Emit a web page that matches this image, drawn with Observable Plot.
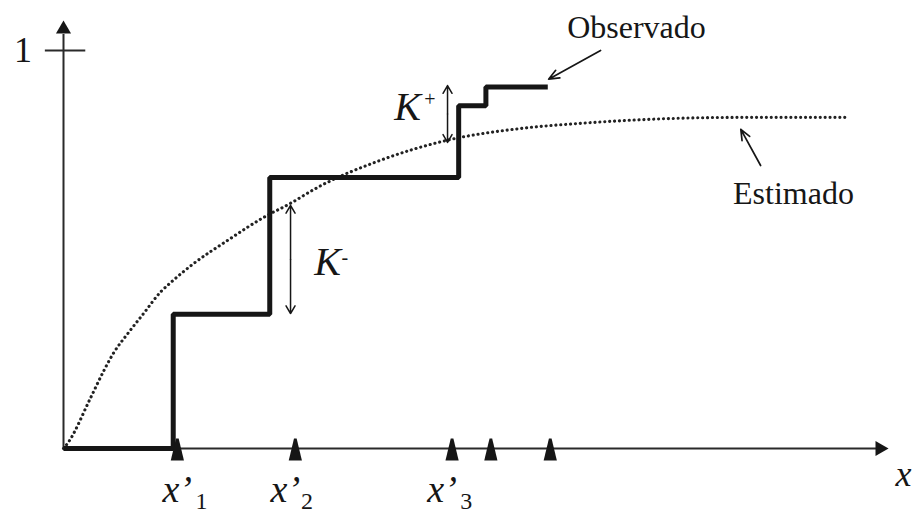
<!DOCTYPE html>
<html>
<head>
<meta charset="utf-8">
<script src="https://cdn.jsdelivr.net/npm/d3@7"></script>
<script src="https://cdn.jsdelivr.net/npm/@observablehq/plot@0.6"></script>
<style>
  html, body { margin: 0; padding: 0; background: #fff; }
</style>
</head>
<body>
<div id="chart"></div>
<script>
// Observed empirical CDF (step function)
const stepX = [0, 1.33, 2.50, 4.79, 5.12, 5.87];
const stepY = [0, 0.337, 0.681, 0.861, 0.908, 0.908];

// Estimated CDF (dotted curve)
const estX = [0, 0.05, 0.33, 0.49, 0.61, 0.78, 0.97, 1.18, 1.30, 1.58, 1.99, 2.42, 2.75, 3.08, 3.84, 4.64, 5.54, 6.27, 8.21, 9.50];
const estY = [0, 0.013, 0.128, 0.196, 0.241, 0.289, 0.339, 0.394, 0.417, 0.465, 0.523, 0.580, 0.616, 0.656, 0.724, 0.774, 0.804, 0.817, 0.832, 0.832];

// Sample points marked on the x axis
const sampleX = [1.38, 2.81, 4.71, 5.18, 5.90];

// Tick label on y axis
const yTicks = [1];
const yTickLabels = ["1"];

// Sample labels x'_i
const sampleLabelX = [1.20, 2.51, 4.41];
const sampleLabelSubX = [1.60, 2.88, 4.81];
const sampleLabelSub = ["1", "2", "3"];

// Annotation labels
const annoText = ["Observado", "Estimado"];
const annoX = [6.945, 8.848];
const annoY = [1.056, 0.641];

// Annotation arrows (from label to curve)
const arrowX1 = [6.51, 8.45];
const arrowY1 = [1.000, 0.711];
const arrowX2 = [5.88, 8.21];
const arrowY2 = [0.928, 0.802];

// K statistics: double arrows and labels
const kX = [4.655, 2.752];
const kY1 = [0.912, 0.611];
const kY2 = [0.769, 0.339];
const kLabelX = [4.17, 3.20];
const kLabelY = [0.857, 0.467];
const kSup = ["+", "-"];
const kSupX = [4.44, 3.41];
const kSupY = [0.877, 0.479];

const ink = "#161616";

const steps = stepX.map((x, i) => ({x, y: stepY[i]}));
const est = estX.map((x, i) => ({x, y: estY[i]}));
const samples = sampleX.map(x => ({x, y: 0}));
const annos = annoText.map((t, i) => ({t, x: annoX[i], y: annoY[i]}));
const arrows = arrowX1.map((x1, i) => ({x1, y1: arrowY1[i], x2: arrowX2[i], y2: arrowY2[i]}));
// each double arrow = two arrows from the midpoint outward
const kHalves = kX.flatMap((x, i) => {
  const m = (kY1[i] + kY2[i]) / 2;
  return [{x, y1: m, y2: kY1[i]}, {x, y1: m, y2: kY2[i]}];
});
const kLabels = kLabelX.map((x, i) => ({x, y: kLabelY[i], sup: kSup[i], sx: kSupX[i], sy: kSupY[i]}));
const xLabels = sampleLabelX.map((x, i) => ({x, sx: sampleLabelSubX[i], sub: sampleLabelSub[i]}));

// narrow triangle symbol for the sample markers
const narrowTriangle = {
  draw(context, size) {
    const r = Math.sqrt(size / Math.PI);
    context.moveTo(-0.12 * r, -r);
    context.lineTo(0.12 * r, -r);
    context.lineTo(0.6 * r, r);
    context.lineTo(-0.6 * r, r);
    context.closePath();
  }
};

const serif = "Liberation Serif, Times New Roman, serif";

const chart = Plot.plot({
  width: 918,
  height: 513,
  marginLeft: 63,
  marginRight: 30,
  marginTop: 50,
  marginBottom: 65,
  x: {domain: [0, 10], axis: null},
  y: {domain: [0, 1], axis: null},
  style: {background: "#fff", fontFamily: serif, color: ink},
  marks: [
    // axes
    Plot.ruleX([0], {y1: 0, y2: 1.04, stroke: "#2a2a2a", strokeWidth: 2}),
    Plot.ruleY([0], {x1: 0, x2: 9.86, stroke: "#2a2a2a", strokeWidth: 2}),
    Plot.dot([{x: 0, y: 1.0535}], {x: "x", y: "y", symbol: "triangle", r: 5.6, fill: ink, stroke: null}),
    Plot.dot([{x: 9.895, y: 0}], {x: "x", y: "y", symbol: "triangle", r: 5.6, rotate: 90, fill: ink, stroke: null}),
    Plot.ruleY(yTicks, {x1: -0.22, x2: 0.27, stroke: "#2a2a2a", strokeWidth: 2}),
    Plot.text(yTicks, {x: -0.49, y: d => d, text: (d, i) => yTickLabels[i], fontSize: 36, fill: ink, textAnchor: "middle"}),
    // estimated curve
    Plot.line(est, {x: "x", y: "y", curve: "monotone-x", stroke: "#222", strokeWidth: 3.1, strokeDasharray: "0.1,4.8", strokeLinecap: "round"}),
    // observed step function
    Plot.line(steps, {x: "x", y: "y", curve: "step-after", stroke: ink, strokeWidth: 5, strokeLinejoin: "miter", strokeLinecap: "butt"}),
    // sample markers
    Plot.dot(samples, {x: "x", y: "y", symbol: narrowTriangle, r: 11, dy: 1, fill: ink, stroke: null}),
    // K double arrows
    Plot.arrow(kHalves, {x1: "x", x2: "x", y1: "y1", y2: "y2", stroke: ink, strokeWidth: 1.5, headLength: 9, headAngle: 60}),
    Plot.text(kLabels, {x: "x", y: "y", text: () => "K", fontSize: 40, fontStyle: "italic", fill: ink}),
    Plot.text(kLabels, {x: "sx", y: "sy", text: "sup", fontSize: 20, fill: ink}),
    // annotation arrows and labels
    Plot.arrow(arrows, {x1: "x1", y1: "y1", x2: "x2", y2: "y2", stroke: ink, strokeWidth: 1.7, headLength: 10, headAngle: 45}),
    Plot.text(annos, {x: "x", y: "y", text: "t", fontSize: 32, fill: ink}),
    // x'_i labels
    Plot.text(xLabels, {x: "x", y: -0.105, text: () => "x\u2019", fontSize: 38, fontStyle: "italic", textAnchor: "start", fill: ink}),
    Plot.text(xLabels, {x: "sx", y: -0.132, text: "sub", fontSize: 24, textAnchor: "start", fill: ink}),
    // axis label
    Plot.text(["x"], {x: 10.085, y: -0.064, text: d => d, fontSize: 36, fontStyle: "italic", textAnchor: "start", fill: ink})
  ]
});

document.getElementById("chart").appendChild(chart);
</script>
</body>
</html>
